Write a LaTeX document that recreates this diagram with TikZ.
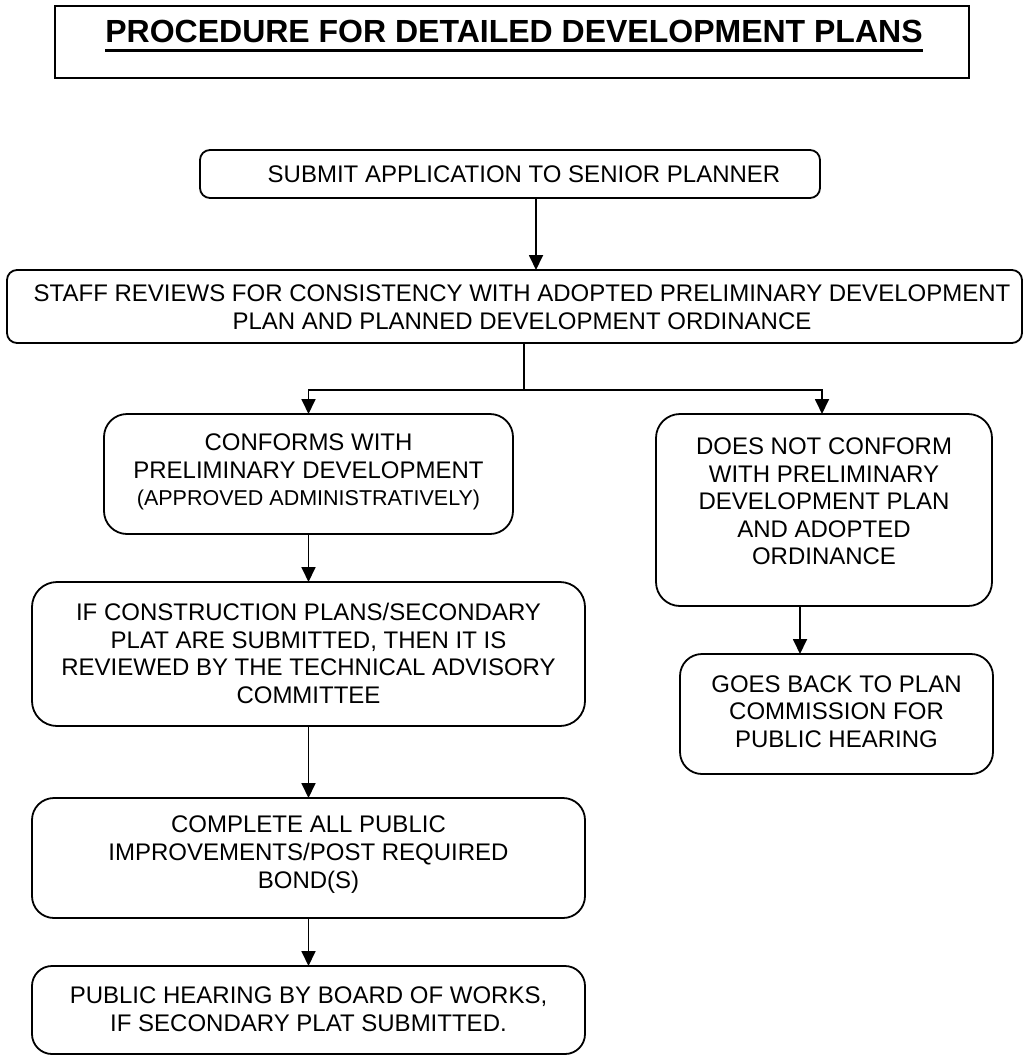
\documentclass[tikz,border=0pt]{standalone}
\usepackage{fontspec}
\setmainfont{Liberation Sans}
\usetikzlibrary{arrows.meta}
\begin{document}
\begin{tikzpicture}[x=1pt,y=-1pt,
  box/.style={draw=black,line width=1.8pt,inner sep=0pt,outer sep=0pt,rectangle},
  txt/.style={inner sep=0pt,align=center,font=\fontsize{24}{27.6}\selectfont},
  arr/.style={line width=1.8pt,-{Triangle[width=14pt,length=15pt]}},
  ln/.style={line width=1.8pt}]
\useasboundingbox (0,0) rectangle (1028,1060);
% title
\node[box,minimum width=914pt,minimum height=72pt] (tbox) at (512,42) {};
\node[inner sep=0pt,anchor=base,font=\fontsize{32}{36}\selectfont\bfseries] (ttl) at (514,42.5) {PROCEDURE FOR DETAILED DEVELOPMENT PLANS};
\draw[line width=3pt] ([yshift=-7.5pt]ttl.base west) -- ([yshift=-7.5pt]ttl.base east);
% boxes
\node[box,rounded corners=10pt,minimum width=620pt,minimum height=48pt] (sub) at (510,174) {};
\node[txt] (subt) at (524,174) {SUBMIT APPLICATION TO SENIOR PLANNER};
\node[box,rounded corners=10pt,minimum width=1015pt,minimum height=73pt] (staff) at (514.5,306.5) {};
\node[txt] (stafft) at (522,307) {STAFF REVIEWS FOR CONSISTENCY WITH ADOPTED PRELIMINARY DEVELOPMENT\\PLAN AND PLANNED DEVELOPMENT ORDINANCE};
\node[box,rounded corners=23pt,minimum width=409pt,minimum height=120pt] (conf) at (308.5,474) {};
\node[txt] (conft) at (308.5,472) {CONFORMS WITH\\PRELIMINARY DEVELOPMENT\\{\fontsize{21.5}{27.6}\selectfont(APPROVED ADMINISTRATIVELY)}};
\node[box,rounded corners=24pt,minimum width=336pt,minimum height=192pt] (nc) at (824,510) {};
\node[txt] (nct) at (824,501.5) {DOES NOT CONFORM\\WITH PRELIMINARY\\DEVELOPMENT PLAN\\AND ADOPTED\\ORDINANCE};
\node[box,rounded corners=25pt,minimum width=553pt,minimum height=144pt] (cons) at (308.5,654) {};
\node[txt] (const) at (308.5,653.5) {IF CONSTRUCTION PLANS/SECONDARY\\PLAT ARE SUBMITTED, THEN IT IS\\REVIEWED BY THE TECHNICAL ADVISORY\\COMMITTEE};
\node[box,rounded corners=22pt,minimum width=313pt,minimum height=120pt] (gb) at (836.5,714) {};
\node[txt] (gbt) at (836.5,711.5) {GOES BACK TO PLAN\\COMMISSION FOR\\PUBLIC HEARING};
\node[box,rounded corners=22pt,minimum width=553pt,minimum height=120pt] (comp) at (308.5,858) {};
\node[txt] (compt) at (308.5,854.5) {COMPLETE ALL PUBLIC\\IMPROVEMENTS/POST REQUIRED\\BOND(S)};
\node[box,rounded corners=20pt,minimum width=553pt,minimum height=88pt] (pub) at (308.5,1010) {};
\node[txt] (pubt) at (308.5,1009) {PUBLIC HEARING BY BOARD OF WORKS,\\IF SECONDARY PLAT SUBMITTED.};
% connectors
\draw[arr] ([xshift=26pt]sub.south) -- ([xshift=21.5pt]staff.north);
\coordinate (br) at (524,390);
\draw[ln] ([xshift=9.5pt]staff.south) -- (br);
\draw[arr] (br) -| (conf.north);
\draw[arr] (br) -| ([xshift=-2pt]nc.north);
\draw[arr] (conf.south) -- (cons.north);
\draw[arr] (cons.south) -- (comp.north);
\draw[arr] (comp.south) -- (pub.north);
\draw[arr] ([xshift=-24pt]nc.south) -- ([xshift=-36.5pt]gb.north);
\end{tikzpicture}
\end{document}
